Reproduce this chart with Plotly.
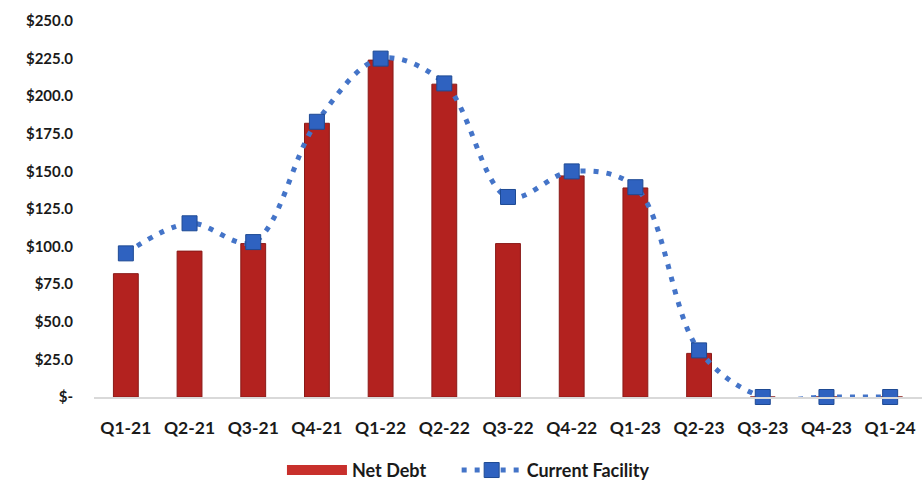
import plotly.graph_objects as go

quarters = ["Q1-21", "Q2-21", "Q3-21", "Q4-21", "Q1-22", "Q2-22", "Q3-22",
            "Q4-22", "Q1-23", "Q2-23", "Q3-23", "Q4-23", "Q1-24"]
net_debt = [82, 97, 102, 182, 224, 208, 102, 147, 139, 29, 0, 0, 0]
current_facility = [95.5, 115.5, 103, 183, 225, 208.5, 133, 150, 139.5, 31, 0, 0, 0]
y_ticks = [0, 25, 50, 75, 100, 125, 150, 175, 200, 225, 250]
y_tick_labels = ["$-", "$25.0", "$50.0", "$75.0", "$100.0", "$125.0", "$150.0",
                 "$175.0", "$200.0", "$225.0", "$250.0"]

font_family = "Lato"
text_color = "#1a1a1a"
bar_color = "#B3221F"
legend_font = dict(family=font_family, size=18, color=text_color, weight="bold")

fig = go.Figure()
fig.add_trace(go.Bar(
    x=quarters, y=net_debt, name="Net Debt",
    marker=dict(color=bar_color, line=dict(color="#8A1A18", width=1)),
    width=0.39, showlegend=False,
))
# legend entry for the bars, drawn as a wide bar-coloured swatch
fig.add_trace(go.Scatter(
    x=[None], y=[None], name="Net Debt", mode="lines",
    line=dict(color="#C8302C", width=12), legend="legend",
))
fig.add_trace(go.Scatter(
    x=quarters, y=current_facility, name="Current Facility",
    mode="lines+markers",
    line=dict(color="#4474C8", width=5, dash="5px,8px", shape="spline", smoothing=1.0),
    marker=dict(symbol="square", size=15, color="#2F62C0",
                line=dict(color="#1E4A94", width=1)),
    cliponaxis=False, legend="legend2",
))

fig.update_layout(
    width=923, height=481,
    margin=dict(l=94, r=1, t=21, b=84, autoexpand=False),
    paper_bgcolor="white", plot_bgcolor="white",
    font=dict(family=font_family, size=15, color=text_color, weight="bold"),
    bargap=0.61,
    showlegend=True,
    legend=dict(orientation="h", x=0.227, xanchor="left", y=-0.195, yanchor="middle",
                font=legend_font, itemwidth=60),
    legend2=dict(orientation="h", x=0.438, xanchor="left", y=-0.195, yanchor="middle",
                 font=legend_font, itemwidth=60),
)
fig.update_xaxes(
    range=[-0.5, len(quarters) - 0.5],
    showgrid=False, showline=True, linecolor="#D9D9D9", linewidth=2,
    ticks="", ticklabelstandoff=14,
    tickfont=dict(family=font_family, size=17.5, color=text_color, weight="bold"),
)
fig.update_yaxes(
    range=[0, 250], tickvals=y_ticks, ticktext=y_tick_labels,
    showgrid=False, zeroline=False, showline=False,
    ticks="", ticklabelstandoff=20,
    tickfont=dict(family=font_family, size=15, color=text_color, weight="bold"),
)

fig.write_html("out.html")
